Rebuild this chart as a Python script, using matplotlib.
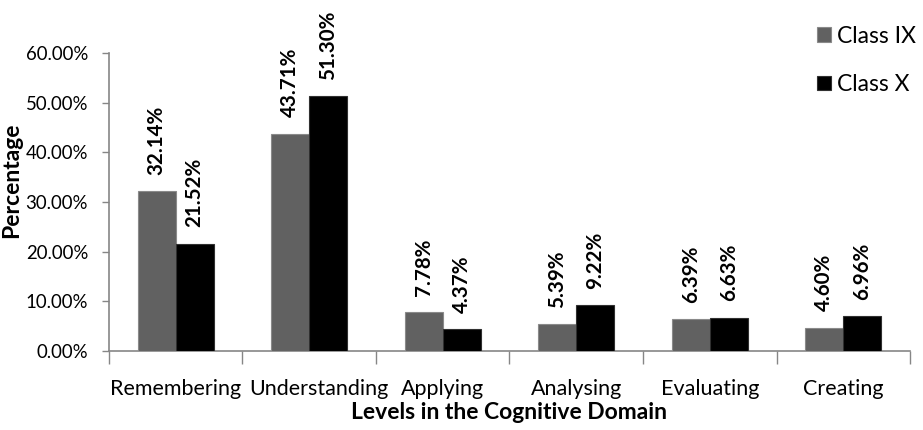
import matplotlib
matplotlib.use("Agg")
import matplotlib.pyplot as plt
import matplotlib.transforms as mtransforms
import numpy as np
from matplotlib.ticker import FuncFormatter

categories = ["Remembering", "Understanding", "Applying", "Analysing", "Evaluating", "Creating"]
class_ix = [32.14, 43.71, 7.78, 5.39, 6.39, 4.60]
class_x = [21.52, 51.30, 4.37, 9.22, 6.63, 6.96]
series_names = ["Class IX", "Class X"]

plt.rcParams["font.family"] = ["Lato", "DejaVu Sans"]

fig = plt.figure(figsize=(9.23, 4.30), dpi=100)
ax = fig.add_axes([0.118, 0.1837, 0.868, 0.693])

x = np.arange(len(categories))
w = 0.285
colors = ["#616161", "#000000"]
edges = ["#8a8a8a", "#303030"]

for i, (vals, name) in enumerate(zip([class_ix, class_x], series_names)):
    pos = x + (i - 0.5) * w
    ax.bar(pos, vals, width=w, color=colors[i], edgecolor=edges[i],
           linewidth=0.8, label=name, zorder=3)
    for xp, v in zip(pos, vals):
        ax.annotate(f"{v:.2f}%", xy=(xp, v), xytext=(0, 12), textcoords="offset points",
                    rotation=90, ha="center", va="bottom", fontsize=14.8,
                    fontweight="bold", annotation_clip=False)

ax.set_xlim(-0.5, len(categories) - 0.5)
ax.set_ylim(0, 60)
ax.set_yticks(np.arange(0, 61, 10))
ax.yaxis.set_major_formatter(FuncFormatter(lambda v, p: f"{v:.2f}%"))

# category labels at centres, tick marks at the boundaries
ax.set_xticks(x)
ax.set_xticklabels(categories, fontsize=15.5)
ax.set_xticks(np.arange(-0.5, len(categories)), minor=True)
ax.tick_params(axis="x", which="major", length=0, pad=20)
ax.tick_params(axis="x", which="minor", length=9, width=1, color="#868686", direction="out")
ax.tick_params(axis="y", length=5, width=1, color="#868686", labelsize=13.4, pad=10)

# nudge the long second label right so it clears its neighbour
shift = mtransforms.ScaledTranslation(7 / 72, 0, fig.dpi_scale_trans)
lbl = ax.get_xticklabels()[1]
lbl.set_transform(lbl.get_transform() + shift)

for s in ["top", "right"]:
    ax.spines[s].set_visible(False)
for s in ["left", "bottom"]:
    ax.spines[s].set_color("#868686")
    ax.spines[s].set_linewidth(1.2)

ax.set_ylabel("Percentage", fontsize=16.5, fontweight="bold")
ax.yaxis.set_label_coords(-0.108, 0.574)
ax.set_xlabel("Levels in the Cognitive Domain", fontsize=16.5, fontweight="bold")
ax.xaxis.set_label_coords(0.5, -0.17)

fig.legend(loc="upper left", bbox_to_anchor=(0.885, 0.94), frameon=False,
           fontsize=16.5, handlelength=0.6, handleheight=0.6, handletextpad=0.3,
           labelspacing=1.2, borderaxespad=0, borderpad=0)

fig.savefig("out.png", dpi=100)
